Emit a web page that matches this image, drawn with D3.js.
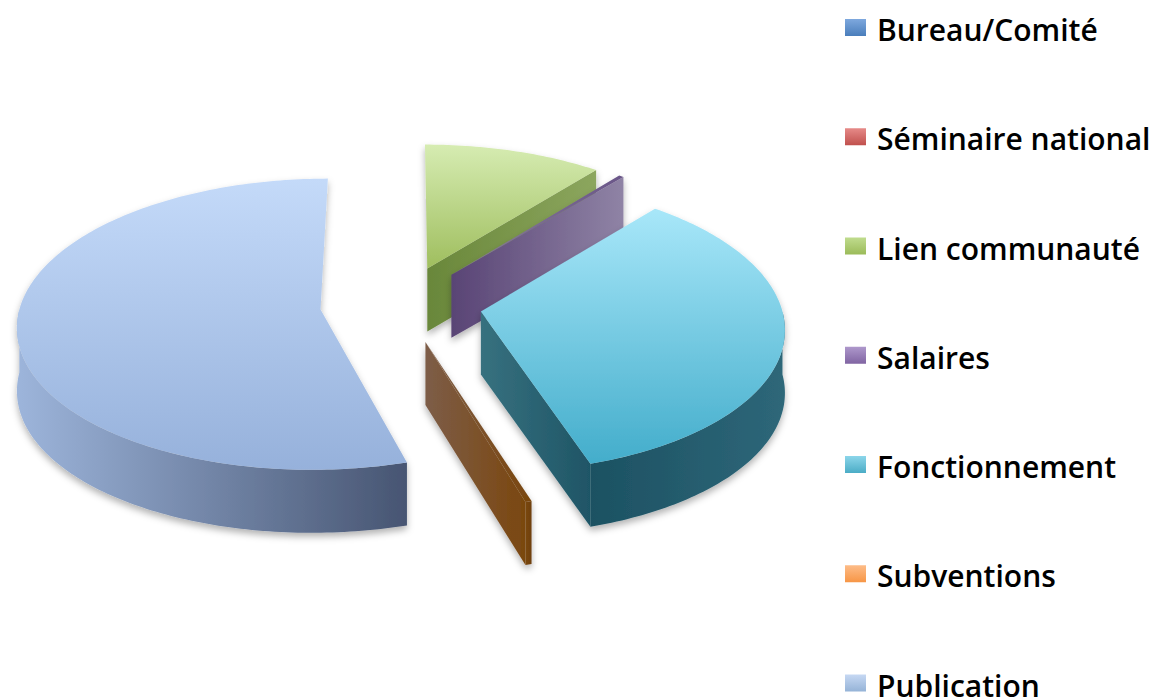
<!DOCTYPE html>
<html>
<head>
<meta charset="utf-8">
<script src="https://cdn.jsdelivr.net/npm/d3@7"></script>
<style>
  body { margin: 0; background: #fff; }
  svg { display: block; }
</style>
</head>
<body>
<svg id="chart" width="1157" height="697"></svg>
<script>
// data (share of total, %)
const categories = ["Bureau/Comité", "Séminaire national", "Lien communauté", "Salaires", "Fonctionnement", "Subventions", "Publication"];
const values = [0, 0, 10.8, 0.3, 34.0, 0.3, 54.6];

// legend swatch colours (light top, dark bottom)
const legendColors = [
  ["#7ea8de", "#4a7ebb"],
  ["#e68a88", "#c0504d"],
  ["#c0dc8e", "#9bbb59"],
  ["#ae98cc", "#8064a2"],
  ["#8cd6ea", "#4bacc6"],
  ["#fdbc88", "#f79646"],
  ["#c6d8f3", "#95b3d7"]
];

// 3d faces: top (vertical gradient), walls/side (horizontal gradient)
const faceColors = {
  "Bureau/Comité":      { top: ["#9cbfee", "#4a7ebb"], wall: ["#3c6596", "#2d4d73"], side: ["#3c6596", "#2d4d73"] },
  "Séminaire national": { top: ["#eba09e", "#c0504d"], wall: ["#9a403e", "#73302e"], side: ["#9a403e", "#73302e"] },
  "Lien communauté":    { top: ["#d6ecb2", "#9fbe5e"], wall: ["#69873a", "#8ca65e"], side: ["#7e9b4a", "#69873a"] },
  "Salaires":           { top: ["#6a5688", "#8a7ca0"], wall: ["#594475", "#8f83a5"], side: ["#6a5688", "#594475"] },
  "Fonctionnement":     { top: ["#a8e7f9", "#43adcb"], wall: ["#37717f", "#1f5566"], side: ["#1c5162", "#2e6779"] },
  "Subventions":        { top: ["#7d5d48", "#7a470f"], wall: ["#7d5d48", "#7a470f"], side: ["#7a470f", "#6e400d"] },
  "Publication":        { top: ["#c4daf9", "#96b1db"], wall: ["#7c93b8", "#4a5874"], side: ["#9db5db", "#475572"] }
};

const svg = d3.select("#chart");
const defs = svg.append("defs");

// pie geometry (screen pixels)
const CX = 401, CY = 304, RX = 300, RY = 143, H = 63;
const P = 0.1;      // perspective strength
const E = 0.27;     // explode distance (fraction of radius)

function project(u, v, z) {
  const s = 1 / (1 - P * v);
  return [CX + RX * u * s, CY + RY * v * s + H * z];
}

const shadow = defs.append("filter")
  .attr("id", "shadow")
  .attr("x", "-20%").attr("y", "-20%")
  .attr("width", "140%").attr("height", "140%");
shadow.append("feDropShadow")
  .attr("dx", 0).attr("dy", 4)
  .attr("stdDeviation", 3.5)
  .attr("flood-color", "#000")
  .attr("flood-opacity", 0.3);

function gradient(id, stops, vertical) {
  const g = defs.append("linearGradient")
    .attr("id", id)
    .attr("x1", 0).attr("y1", 0)
    .attr("x2", vertical ? 0 : 1).attr("y2", vertical ? 1 : 0);
  g.append("stop").attr("offset", "0%").attr("stop-color", stops[0]);
  g.append("stop").attr("offset", "100%").attr("stop-color", stops[1]);
  return "url(#" + id + ")";
}

const pie = d3.pie().sort(null).value(d => d.value);
const table = categories.map((c, i) => ({ name: c, value: values[i], idx: i }));
const arcs = pie(table).filter(a => a.data.value > 0);

const line = d3.line().curve(d3.curveLinearClosed);

function steps(a0, a1) {
  const n = Math.max(2, Math.ceil((a1 - a0) / (Math.PI / 180)));
  return d3.range(n + 1).map(k => a0 + (a1 - a0) * k / n);
}

// back to front
arcs.forEach(a => {
  const mid = (a.startAngle + a.endAngle) / 2;
  a.ou = E * Math.sin(mid);
  a.ov = -E * Math.cos(mid);
});
arcs.sort((p, q) => p.ov - q.ov);

const pieG = svg.append("g");

arcs.forEach(a => {
  const a0 = a.startAngle, a1 = a.endAngle;
  const col = faceColors[a.data.name];
  const key = "s" + a.data.idx;
  const rim = (t, z) => project(a.ou + Math.sin(t), a.ov - Math.cos(t), z);
  const apex = z => project(a.ou, a.ov, z);

  const g = pieG.append("g").attr("filter", "url(#shadow)");

  // radial walls facing the viewer
  if (Math.sin(a0) < -1e-6) {
    g.append("path")
      .attr("d", line([apex(0), rim(a0, 0), rim(a0, 1), apex(1)]))
      .attr("fill", gradient(key + "w0", col.wall, false));
  }
  if (Math.sin(a1) > 1e-6) {
    g.append("path")
      .attr("d", line([apex(0), rim(a1, 0), rim(a1, 1), apex(1)]))
      .attr("fill", gradient(key + "w1", col.wall, false));
  }

  // outer curved side, front half only
  const s0 = Math.max(a0, Math.PI / 2), s1 = Math.min(a1, 3 * Math.PI / 2);
  if (s1 > s0) {
    const ts = steps(s0, s1);
    const pts = ts.map(t => rim(t, 0)).concat(ts.slice().reverse().map(t => rim(t, 1)));
    g.append("path")
      .attr("d", line(pts))
      .attr("fill", gradient(key + "side", col.side, false));
  }

  // top face
  const topPts = [apex(0)].concat(steps(a0, a1).map(t => rim(t, 0)));
  g.append("path")
    .attr("d", line(topPts))
    .attr("fill", gradient(key + "top", col.top, true));
});

// legend
const legend = svg.append("g").attr("class", "legend");
const item = legend.selectAll("g")
  .data(categories)
  .join("g")
  .attr("transform", (d, i) => `translate(845, ${41 + i * 109.25})`);

item.append("rect")
  .attr("x", 0).attr("y", -22)
  .attr("width", 21).attr("height", 17)
  .attr("fill", (d, i) => gradient("lg" + i, legendColors[i], true));

item.append("text")
  .attr("x", 32).attr("y", 0)
  .attr("font-family", "'Open Sans', sans-serif")
  .attr("font-weight", 600)
  .attr("font-size", 30)
  .attr("fill", "#000")
  .text(d => d);
</script>
</body>
</html>
